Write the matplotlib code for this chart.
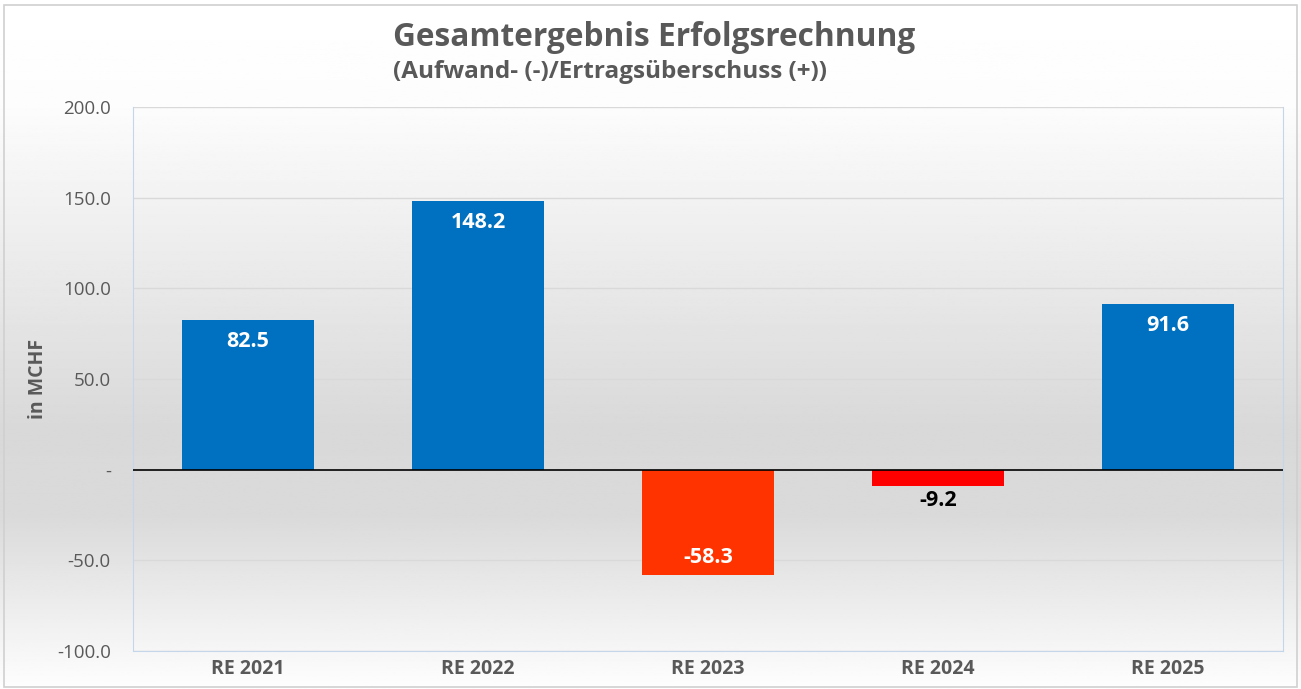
import numpy as np
import matplotlib
matplotlib.use("Agg")
import matplotlib.pyplot as plt
from matplotlib.patches import Rectangle

plt.rcParams['font.family'] = ['Open Sans', 'DejaVu Sans']

# Daten
jahre = ["RE 2021", "RE 2022", "RE 2023", "RE 2024", "RE 2025"]
werte = [82.5, 148.2, -58.3, -9.2, 91.6]
farben = ["#0070C0", "#0070C0", "#FF3300", "#FF0000", "#0070C0"]
yticks = [-100, -50, 0, 50, 100, 150, 200]

grau = "#595959"

fig = plt.figure(figsize=(13.01, 6.89), dpi=100)

# Hintergrund mit Verlauf (weiss -> grau -> weiss)
bg = fig.add_axes([0, 0, 1, 1], zorder=-10)
t = np.linspace(0, 1, 400)  # 0 = oben
g = np.interp(t, [0.0, 0.15, 0.62, 0.75, 1.0], [1.0, 0.99, 0.85, 0.855, 0.995])
bg.imshow(np.repeat(g[:, None], 2, axis=1), cmap="gray", vmin=0, vmax=1,
          aspect="auto", extent=[0, 1, 0, 1])
bg.set_axis_off()
fig.patches.append(Rectangle((4 / 1301, 2 / 689), 1293 / 1301, 682 / 689,
                             transform=fig.transFigure, fill=False,
                             edgecolor="#d0d0d0", linewidth=1.2))

# Diagramm
ax = fig.add_axes([133 / 1301, 1 - 651 / 689, 1150 / 1301, 544 / 689])
ax.patch.set_alpha(0)
x = np.arange(len(jahre))
bars = ax.bar(x, werte, width=0.575, color=farben, zorder=3)

ax.set_xlim(-0.5, len(jahre) - 0.5)
ax.set_ylim(-100, 200)
ax.set_yticks(yticks)
ax.set_yticklabels([f"{v:.1f}" if v != 0 else "-" for v in yticks],
                   fontsize=13.5, color=grau)
ax.set_xticks(x)
ax.set_xticklabels(jahre, fontsize=14, fontweight="bold", color=grau)
ax.tick_params(axis="both", length=0)
ax.tick_params(axis="y", pad=16)
ax.tick_params(axis="x", pad=6)

ax.grid(axis="y", color="#d9d9d9", linewidth=1, zorder=0)
ax.axhline(0, color="black", linewidth=1.2, zorder=4)
for s in ["left", "right", "bottom"]:
    ax.spines[s].set_color("#c5d6ea")
ax.spines["top"].set_visible(False)

# Datenbeschriftungen
for xi, v in zip(x, werte):
    txt = f"{v:.1f}"
    if v > 0:
        ax.text(xi, v - 12, txt, ha="center", va="center", fontsize=15.5,
                fontweight="bold", color="white", zorder=5)
    elif v < -30:
        ax.text(xi, v + 10, txt, ha="center", va="center", fontsize=15.5,
                fontweight="bold", color="white", zorder=5)
    else:
        ax.text(xi, v - 8, txt, ha="center", va="center", fontsize=15.5,
                fontweight="bold", color="black", zorder=5)

fig.text(38 / 1301, 1 - 379 / 689, "in MCHF", rotation=90, ha="center",
         va="center", fontsize=14, fontweight="bold", color=grau)

fig.text(654 / 1301, 1 - 37 / 689, "Gesamtergebnis Erfolgsrechnung", ha="center",
         va="center", fontsize=22.8, fontweight="bold", color=grau)
fig.text(393 / 1301, 1 - 72 / 689, "(Aufwand- (-)/Ertragsüberschuss (+))",
         ha="left", va="center", fontsize=17.5, fontweight="bold", color=grau)

fig.savefig("out.png", dpi=100)
